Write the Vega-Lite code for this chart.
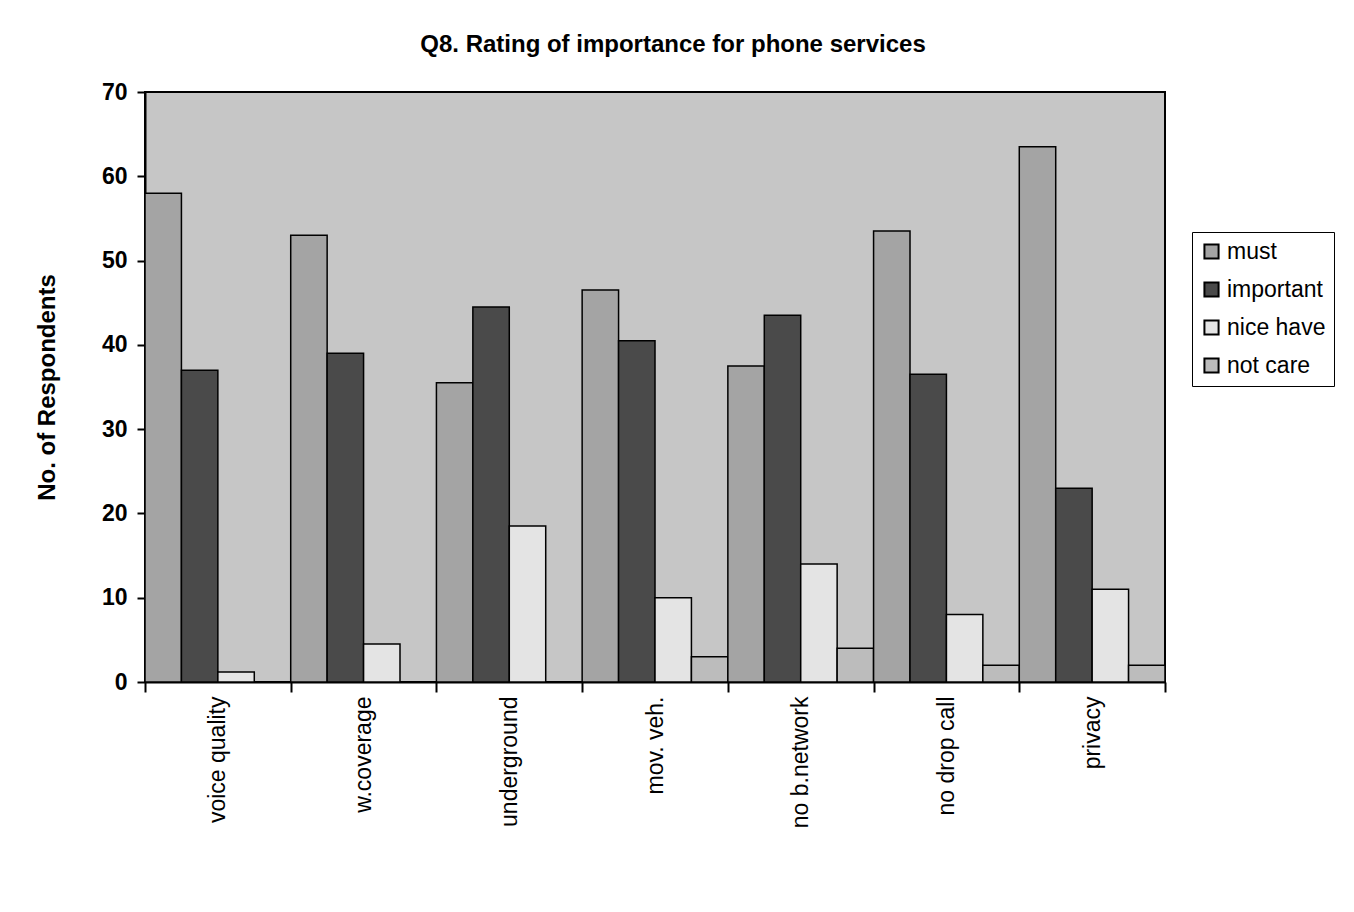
{
  "$schema": "https://vega.github.io/schema/vega-lite/v6.json",
  "width": 1020,
  "height": 590,
  "autosize": "none",
  "padding": {"left": 145, "top": 92, "right": 189, "bottom": 230},
  "background": "white",
  "title": {
    "text": "Q8. Rating of importance for phone services",
    "font": "Liberation Sans",
    "fontSize": 24,
    "fontWeight": "bold",
    "color": "black",
    "anchor": "middle",
    "dx": 18,
    "offset": 24
  },
  "config": {
    "view": {"fill": "#c6c6c6", "stroke": "black", "strokeWidth": 2},
    "font": "Liberation Sans"
  },
  "data": {
    "values": [
      {"service": "voice quality", "rating": "must", "count": 58},
      {"service": "voice quality", "rating": "important", "count": 37},
      {"service": "voice quality", "rating": "nice have", "count": 1.2},
      {"service": "voice quality", "rating": "not care", "count": 0},
      {"service": "w.coverage", "rating": "must", "count": 53},
      {"service": "w.coverage", "rating": "important", "count": 39},
      {"service": "w.coverage", "rating": "nice have", "count": 4.5},
      {"service": "w.coverage", "rating": "not care", "count": 0},
      {"service": "underground", "rating": "must", "count": 35.5},
      {"service": "underground", "rating": "important", "count": 44.5},
      {"service": "underground", "rating": "nice have", "count": 18.5},
      {"service": "underground", "rating": "not care", "count": 0},
      {"service": "mov. veh.", "rating": "must", "count": 46.5},
      {"service": "mov. veh.", "rating": "important", "count": 40.5},
      {"service": "mov. veh.", "rating": "nice have", "count": 10},
      {"service": "mov. veh.", "rating": "not care", "count": 3},
      {"service": "no b.network", "rating": "must", "count": 37.5},
      {"service": "no b.network", "rating": "important", "count": 43.5},
      {"service": "no b.network", "rating": "nice have", "count": 14},
      {"service": "no b.network", "rating": "not care", "count": 4},
      {"service": "no drop call", "rating": "must", "count": 53.5},
      {"service": "no drop call", "rating": "important", "count": 36.5},
      {"service": "no drop call", "rating": "nice have", "count": 8},
      {"service": "no drop call", "rating": "not care", "count": 2},
      {"service": "privacy", "rating": "must", "count": 63.5},
      {"service": "privacy", "rating": "important", "count": 23},
      {"service": "privacy", "rating": "nice have", "count": 11},
      {"service": "privacy", "rating": "not care", "count": 2}
    ]
  },
  "mark": {"type": "bar", "stroke": "black", "strokeWidth": 1.5},
  "encoding": {
    "x": {
      "field": "service",
      "type": "nominal",
      "sort": null,
      "scale": {"paddingInner": 0, "paddingOuter": 0},
      "axis": {
        "title": null,
        "labelAngle": -90,
        "labelFontSize": 23,
        "labelColor": "black",
        "labelPadding": 4,
        "tickBand": "extent",
        "tickSize": 10,
        "tickColor": "black",
        "tickWidth": 2,
        "domainColor": "black",
        "domainWidth": 2
      }
    },
    "xOffset": {
      "field": "rating",
      "type": "nominal",
      "sort": ["must", "important", "nice have", "not care"],
      "scale": {"paddingInner": 0, "paddingOuter": 0}
    },
    "y": {
      "field": "count",
      "type": "quantitative",
      "scale": {"domain": [0, 70], "nice": false},
      "axis": {
        "title": "No. of Respondents",
        "titleFontSize": 24,
        "titleFontWeight": "bold",
        "titleColor": "black",
        "titlePadding": 42,
        "values": [0, 10, 20, 30, 40, 50, 60, 70],
        "labelFontSize": 23,
        "labelFontWeight": "bold",
        "labelColor": "black",
        "labelPadding": 10,
        "tickSize": 8,
        "tickColor": "black",
        "tickWidth": 2,
        "domainColor": "black",
        "domainWidth": 2,
        "grid": false
      }
    },
    "fill": {
      "field": "rating",
      "type": "nominal",
      "scale": {
        "domain": ["must", "important", "nice have", "not care"],
        "range": ["#a4a4a4", "#4a4a4a", "#e4e4e4", "#bcbcbc"]
      },
      "legend": {
        "title": null,
        "orient": "none",
        "legendX": 1047,
        "legendY": 140,
        "strokeColor": "black",
        "padding": 8,
        "labelFontSize": 23,
        "labelColor": "black",
        "symbolType": "square",
        "symbolSize": 200,
        "symbolStrokeColor": "black",
        "symbolStrokeWidth": 2,
        "rowPadding": 14,
        "labelOffset": 4,
        "fillColor": "white"
      }
    }
  }
}
